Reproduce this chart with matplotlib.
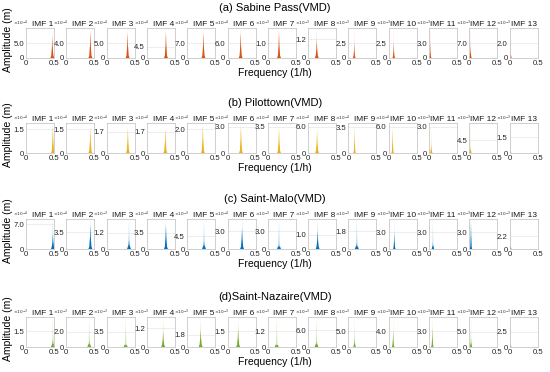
import matplotlib
matplotlib.use("Agg")
import matplotlib.pyplot as plt
import numpy as np

# row titles and fill colours (MATLAB default palette)
titles = ["(a) Sabine Pass(VMD)", "(b) Pilottown(VMD)",
          "(c) Saint-Malo(VMD)", "(d)Saint-Nazaire(VMD)"]
colors = ["#D95319", "#EDB120", "#0072BD", "#77AC30"]
imf_names = ["IMF %d" % (i + 1) for i in range(13)]

# peak frequency (1/h) of each IMF spectrum
peak_a = [0.47, 0.43, 0.375, 0.34, 0.29, 0.235, 0.20, 0.155, 0.105, 0.09, 0.02, 0.02, 0.015]
peak_b = [0.48, 0.43, 0.38, 0.33, 0.28, 0.24, 0.20, 0.16, 0.11, 0.07, 0.04, 0.02, 0.01]
peak_c = [0.48, 0.43, 0.40, 0.34, 0.30, 0.26, 0.20, 0.17, 0.15, 0.10, 0.07, 0.03, 0.01]
peak_d = [0.48, 0.41, 0.34, 0.29, 0.24, 0.19, 0.16, 0.15, 0.11, 0.08, 0.06, 0.03, 0.01]

# labelled y tick (mantissa) and max amplitude (axis top, same scale)
tick_a = [5.0, 4.0, 5.0, 4.5, 7.0, 6.0, 1.0, 1.2, 2.5, 2.5, 3.0, 7.0, 2.0]
ymax_a = [10, 8, 10, 12.2, 14, 12, 2, 1.94, 5, 5, 6, 14, 4]
tick_b = [1.5, 1.5, 1.7, 1.7, 2.0, 3.0, 3.5, 6.0, 3.5, 6.0, 3.0, 4.5, 1.5]
ymax_b = [1.88, 1.88, 2.4, 2.4, 2.5, 3.4, 4.0, 6.9, 4.07, 6.9, 3.45, 10.7, 2.9]
tick_c = [7.0, 3.5, 1.2, 3.5, 4.5, 3.0, 3.0, 1.0, 1.8, 3.0, 3.0, 3.0, 2.2]
ymax_c = [8.5, 6.25, 2.2, 6.5, 10.5, 5, 5, 2.1, 3, 5.3, 5.3, 5.3, 5.2]
tick_d = [1.5, 2.0, 3.5, 1.2, 1.8, 1.5, 1.2, 6.0, 5.0, 4.0, 3.0, 5.0, 2.5]
ymax_d = [2.9, 4, 7, 1.9, 4.4, 2.9, 2.3, 10.7, 9.6, 7.7, 5.8, 10, 5]

# dense part of the spectrum as share of the max amplitude
core_a = [0.7, 0.9, 0.85, 0.85, 0.85, 0.85, 0.85, 0.6, 0.5, 0.5, 0.5, 0.4, 0.2]
core_b = [0.9, 0.85, 0.8, 0.8, 0.9, 0.9, 0.8, 0.7, 0.8, 0.8, 0.3, 0.2, 0.1]
core_c = [0.5, 0.8, 0.3, 0.8, 0.25, 0.7, 0.15, 0.6, 0.2, 0.55, 0.2, 0.9, 0.15]
core_d = [0.25, 0.2, 0.1, 0.5, 0.6, 0.6, 0.1, 0.2, 0.3, 0.55, 0.65, 0.3, 0.15]

# exponent shown above each y axis
exp_a = [-4] * 6 + [-3] * 7
exp_b = [-4] * 10 + [-3] * 3
exp_c = [-4, -4, -3, -4, -3, -4, -3, -3, -3, -3, -3, -3, -3]
exp_d = [-3] * 13

rows = [(peak_a, tick_a, ymax_a, core_a, exp_a),
        (peak_b, tick_b, ymax_b, core_b, exp_b),
        (peak_c, tick_c, ymax_c, core_c, exp_c),
        (peak_d, tick_d, ymax_d, core_d, exp_d)]

W, H = 550, 372
fig = plt.figure(figsize=(W / 100, H / 100), dpi=100)
plt.rcParams["font.family"] = ["Liberation Sans", "DejaVu Sans"]

row_top = [28, 123, 219, 317]
row_h = 30
ax_w = 28
x0 = 26
dx = 40.3

for r, (peaks, ticks, ymaxs, cores, exps) in enumerate(rows):
    top = row_top[r]
    for i in range(13):
        left = x0 + i * dx
        ax = fig.add_axes([left / W, 1 - (top + row_h) / H, ax_w / W, row_h / H])
        f = peaks[i]
        m = ymaxs[i]
        c = cores[i] * m
        w = 0.016 if f > 0.12 else 0.01
        # pale envelope reaching the max amplitude
        ax.fill([f - w, f - w * 0.3, f, f + w * 0.3, f + w],
                [0, 0.5 * m, m, 0.5 * m, 0], color=colors[r], alpha=0.3, lw=0)
        # dense core
        ax.fill([f - 2.2 * w, f - 1.2 * w, f - 0.4 * w, f, f + 0.4 * w, f + 1.2 * w, f + 2.2 * w],
                [0, 0.08 * m, 0.5 * c, c, 0.5 * c, 0.08 * m, 0], color=colors[r], lw=0)
        ax.set_xlim(0, 0.5)
        ax.set_ylim(0, m)
        ax.set_xticks([0, 0.5])
        ax.set_xticklabels(["0", "0.5"])
        ax.set_yticks([0, ticks[i]])
        ax.set_yticklabels(["0", "%.1f" % ticks[i]])
        ax.axhline(ticks[i], color="#ebebeb", lw=0.6, zorder=0)
        ax.tick_params(length=0, labelsize=5.6, pad=1.5, colors="#262626")
        for s in ax.spines.values():
            s.set_color("#c8c8c8")
            s.set_linewidth(0.6)
        tx = 0.58 if i < 9 else 0.5
        ax.set_title(imf_names[i], fontsize=6.0, pad=1.5, color="#1a1a1a", x=tx)
        ax.text(-0.2, 1.0, r"$\times10^{%d}$" % exps[i], transform=ax.transAxes,
                fontsize=3.1, ha="center", va="bottom", color="#262626")
    fig.text(275 / W, 1 - (top - 20) / H, titles[r], ha="center", va="center", fontsize=8)
    fig.text(275 / W, 1 - (top + row_h + 15) / H, "Frequency (1/h)", ha="center",
             va="center", fontsize=7.5)
    fig.text(8 / W, 1 - (top + row_h / 2 - 3) / H, "Amplitude (m)", ha="center",
             va="center", rotation=90, fontsize=7.5)

fig.savefig("out.png", dpi=100)
